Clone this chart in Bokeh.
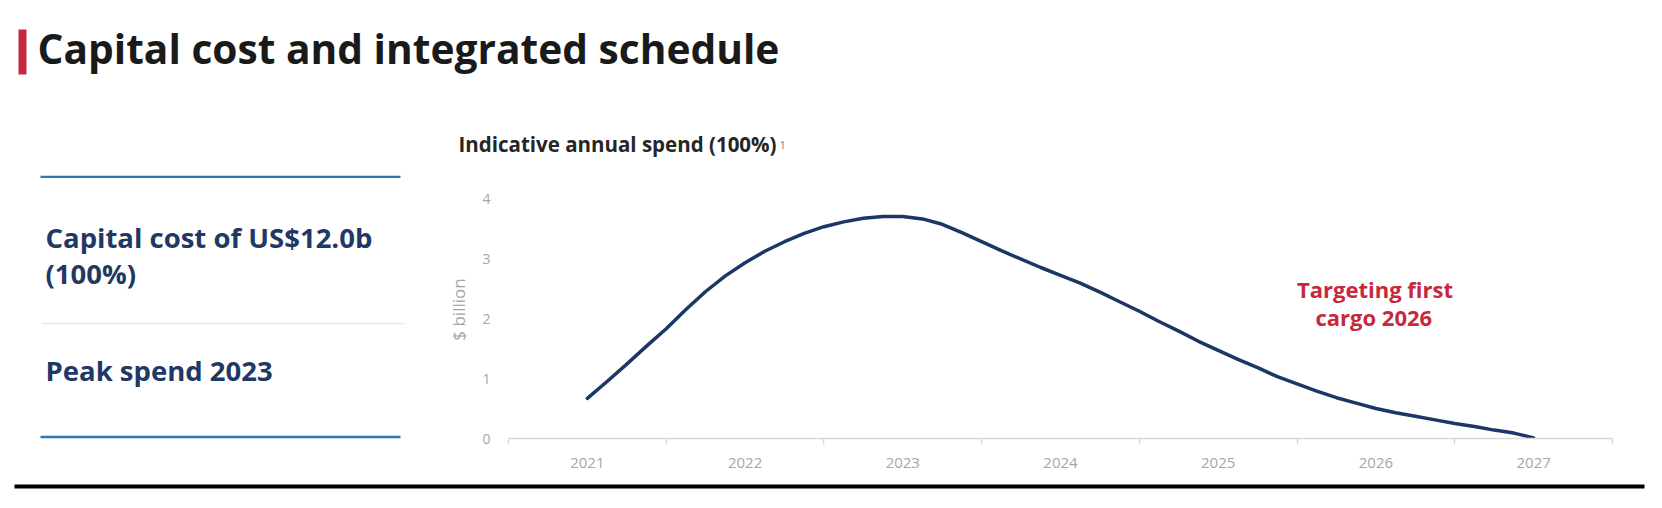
from bokeh.plotting import figure
from bokeh.layouts import column, row
from bokeh.models import Range1d, FixedTicker, Label, BoxAnnotation
from bokeh.embed import file_html
from bokeh.resources import INLINE

# ---------------- data ----------------
years = [2021, 2022, 2023, 2024, 2025, 2026, 2027]
year_labels = ["2021", "2022", "2023", "2024", "2025", "2026", "2027"]
y_ticks = [0, 1, 2, 3, 4]

# spend curve (eighth-year steps), $ billion
spend_t = [2021.000, 2021.125, 2021.250, 2021.375, 2021.500, 2021.625, 2021.750, 2021.875,
           2022.000, 2022.125, 2022.250, 2022.375, 2022.500, 2022.625, 2022.750, 2022.875,
           2023.000, 2023.125, 2023.250, 2023.375, 2023.500, 2023.625, 2023.750, 2023.875,
           2024.000, 2024.125, 2024.250, 2024.375, 2024.500, 2024.625, 2024.750, 2024.875,
           2025.000, 2025.125, 2025.250, 2025.375, 2025.500, 2025.625, 2025.750, 2025.875,
           2026.000, 2026.125, 2026.250, 2026.375, 2026.500, 2026.625, 2026.750, 2026.875,
           2027.000]
spend_bn = [0.67, 0.95, 1.24, 1.54, 1.83, 2.15, 2.45, 2.71,
            2.93, 3.12, 3.28, 3.42, 3.53, 3.61, 3.67, 3.70,
            3.70, 3.66, 3.57, 3.43, 3.28, 3.13, 2.99, 2.85,
            2.72, 2.59, 2.44, 2.28, 2.12, 1.95, 1.79, 1.62,
            1.47, 1.32, 1.18, 1.03, 0.91, 0.79, 0.68, 0.59,
            0.50, 0.43, 0.37, 0.31, 0.25, 0.20, 0.14, 0.09,
            0.01]

title_text = "Capital cost and integrated schedule"
chart_title = "Indicative annual spend (100%)"
footnote_mark = "1"
y_axis_label = "$ billion"
left_line1 = "Capital cost of US$12.0b"
left_line2 = "(100%)"
left_line3 = "Peak spend 2023"
note_line1 = "Targeting first"
note_line2 = "cargo 2026"

# ---------------- styles ----------------
FONT = "Open Sans"
NAVY = "#1f3864"
CURVE = "#1c3765"
RED = "#c8283e"
BLUE = "#2f75b5"
GREY_TXT = "#a6a6a6"
AXIS_GREY = "#d9d9d9"
DESC = 0.293    # font descent (em): Label y = bottom of text box = baseline + descent

W = 1662
HEAD_H, MID_H, FOOT_H = 178, 302, 28
LEFT_W = 440


def blank(width, height):
    f = figure(width=width, height=height, output_backend="svg", toolbar_location=None,
               x_axis_location=None, y_axis_location=None,
               min_border_left=0, min_border_right=0, min_border_top=0, min_border_bottom=0,
               x_range=Range1d(0, 1), y_range=Range1d(0, 1))
    f.outline_line_color = None
    f.xgrid.grid_line_color = None
    f.ygrid.grid_line_color = None
    return f


def rule(f, l, r, t, b, color):
    f.add_layout(BoxAnnotation(left=l, right=r, top=t, bottom=b,
                               left_units="canvas", right_units="canvas",
                               top_units="canvas", bottom_units="canvas",
                               fill_color=color, fill_alpha=1.0,
                               line_color=None, level="overlay"))


def label(f, x, baseline, text, size, color, style="bold", align="left"):
    f.add_layout(Label(x=x, y=baseline + DESC * size, x_units="canvas", y_units="canvas",
                       text=text, text_font=FONT, text_font_size=f"{size}px",
                       text_font_style=style, text_color=color, text_align=align,
                       text_baseline="bottom"))


# ---------------- header ----------------
head = blank(W, HEAD_H)
rule(head, 18, 26, 29, 74, RED)
label(head, 37, 63.5, title_text, 40.7, "#1a1a1a")
label(head, 458, 151.7, chart_title, 20.5, "#262626")
label(head, 779, 145, footnote_mark, 11, "#7f7f7f", style="normal")
rule(head, 40, 400, 175.2, 177.8, BLUE)

# ---------------- left panel (page y = local y + HEAD_H) ----------------
left = blank(LEFT_W, MID_H)
label(left, 45, 69.3, left_line1, 27.5, NAVY)
label(left, 45, 105, left_line2, 27.5, NAVY)
rule(left, 42, 404, 144.3, 145.8, "#e8e8e8")
label(left, 45, 202, left_line3, 27.5, NAVY)
rule(left, 40, 400, 257.3, 260, BLUE)

# ---------------- chart ----------------
p = figure(width=W - LEFT_W, height=MID_H, output_backend="svg", toolbar_location=None,
           x_range=Range1d(2020.5, 2027.5), y_range=Range1d(0, 4.3),
           min_border_left=68, min_border_right=50,
           min_border_top=2, min_border_bottom=42)
p.outline_line_color = None
p.xgrid.grid_line_color = None
p.ygrid.grid_line_color = None

edges = [y - 0.5 for y in years] + [years[-1] + 0.5]
p.xaxis.ticker = FixedTicker(ticks=years, minor_ticks=edges)
p.xaxis.major_label_overrides = {y: l for y, l in zip(years, year_labels)}
p.xaxis.major_tick_out = 0
p.xaxis.major_tick_in = 0
p.xaxis.minor_tick_out = 6
p.xaxis.minor_tick_in = 0
p.xaxis.minor_tick_line_color = AXIS_GREY
p.xaxis.minor_tick_line_width = 1.5
p.xaxis.axis_line_color = AXIS_GREY
p.xaxis.axis_line_width = 1.5
p.xaxis.major_label_standoff = 13
p.xaxis.major_label_text_font = FONT
p.xaxis.major_label_text_font_size = "15px"
p.xaxis.major_label_text_color = GREY_TXT

p.yaxis.ticker = FixedTicker(ticks=y_ticks)
p.yaxis.axis_line_color = None
p.yaxis.major_tick_line_color = None
p.yaxis.minor_tick_line_color = None
p.yaxis.major_label_standoff = 12
p.yaxis.major_label_text_font = FONT
p.yaxis.major_label_text_font_size = "14px"
p.yaxis.major_label_text_color = GREY_TXT
p.yaxis.axis_label = y_axis_label
p.yaxis.axis_label_text_font = FONT
p.yaxis.axis_label_text_font_size = "17px"
p.yaxis.axis_label_text_font_style = "normal"
p.yaxis.axis_label_text_color = GREY_TXT
p.yaxis.axis_label_standoff = 9

p.line(spend_t, spend_bn, line_width=3.5, line_color=CURVE,
       line_cap="round", line_join="round")

label(p, 934.5, 118.7, note_line1, 22, RED, align="center")
label(p, 933.3, 147, note_line2, 22, RED, align="center")

# ---------------- footer ----------------
foot = blank(W, FOOT_H)
rule(foot, 14, 1644, 4, 8, "#000000")

layout = column(head, row(left, p, spacing=0), foot, spacing=0)
open("out.html", "w").write(file_html(layout, INLINE))
